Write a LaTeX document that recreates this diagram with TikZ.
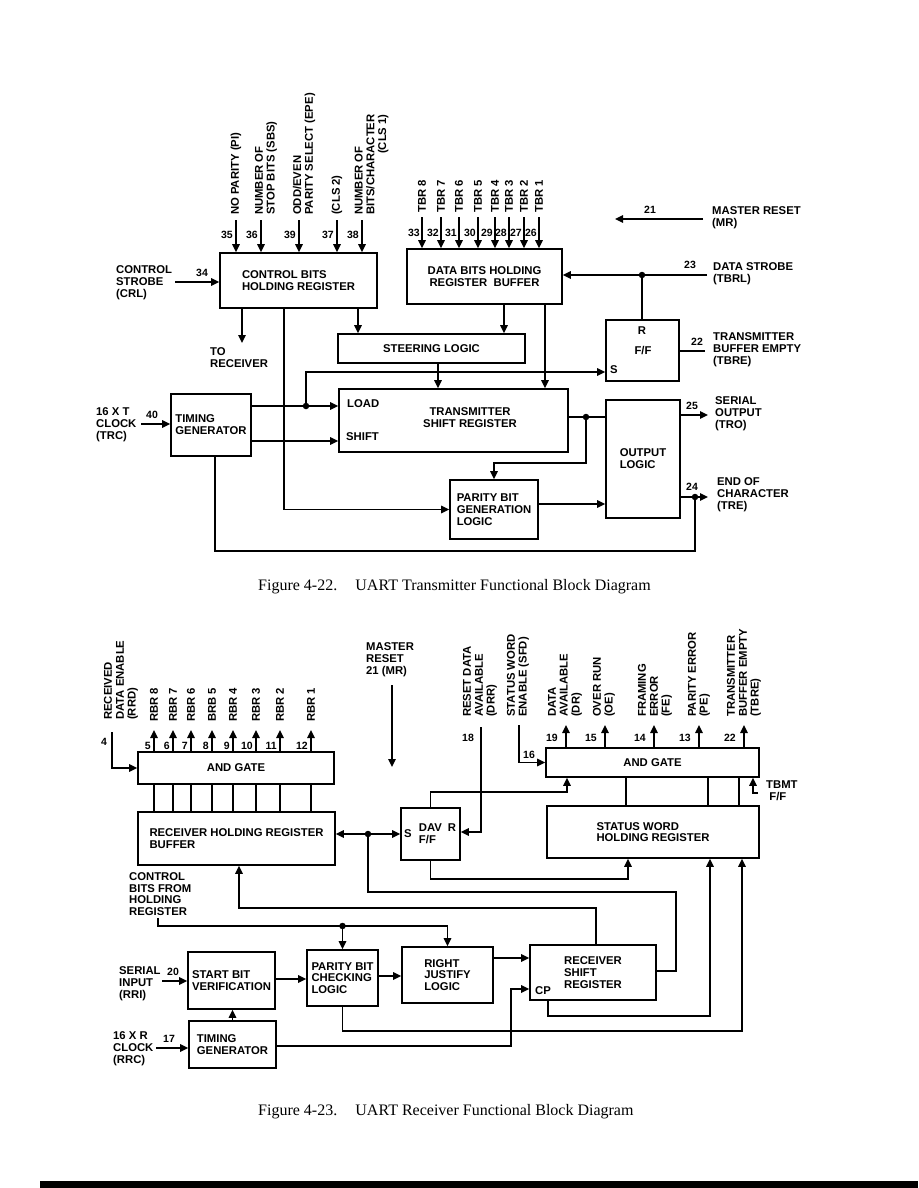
\documentclass[tikz,border=0pt]{standalone}
\usepackage{fontspec}
\setmainfont{Liberation Serif}
\newfontfamily\blockfont{Liberation Sans}
\usetikzlibrary{arrows.meta}
\newcommand\lbfont{\blockfont\bfseries\fontsize{11.3}{11.8}\selectfont}
\newcommand\pinfont{\blockfont\bfseries\fontsize{10.5}{11}\selectfont}
\tikzset{
  blk/.style={draw, rectangle, line width=1.6pt, inner sep=0pt, align=left, font=\lbfont},
  txt/.style={font=\lbfont, align=left, inner sep=0pt},
  vtxt/.style={txt, rotate=90, anchor=west},
  pin/.style={font=\pinfont, inner sep=0pt, anchor=east},
  dot/.style={circle, fill, inner sep=0pt, minimum size=6.5pt},
  wire/.style={line width=1.6pt},
  capt/.style={font=\fontsize{16}{18}\selectfont, anchor=west, inner sep=0pt},
}
\begin{document}
\begin{tikzpicture}[x=1pt, y=-1pt, >={Triangle[length=8pt,width=7.5pt]}]
\useasboundingbox (0,0) rectangle (918,1188);

% Transmitter blocks
\node[blk, minimum width=157pt, minimum height=55pt] (ctl) at (298.5,280.5) {CONTROL BITS\\HOLDING REGISTER};
\node[blk, minimum width=155pt, minimum height=55pt, align=center] (dbh) at (484.5,276.5) {DATA BITS HOLDING\\REGISTER\ \ BUFFER};
\node[blk, minimum width=187pt, minimum height=29pt] (steer) at (431.5,348.5) {STEERING LOGIC};
\node[blk, minimum width=73pt, minimum height=61pt] (ff) at (642.5,350.5) {};
\node[blk, minimum width=229pt, minimum height=63pt] (tsr) at (453.5,420.5) {};
\node[blk, minimum width=80pt, minimum height=62pt] (tgt) at (211,425) {TIMING\\GENERATOR};
\node[blk, minimum width=74pt, minimum height=118pt] (outl) at (643,459) {OUTPUT\\LOGIC};
\node[blk, minimum width=88pt, minimum height=59pt] (pgen) at (494,509.5) {PARITY BIT\\GENERATION\\LOGIC};

% Texts inside blocks
\node[txt, align=center] (tsrtxt) at (470,418) {TRANSMITTER\\SHIFT REGISTER};
\node[txt, anchor=west] (load) at (347,404) {LOAD};
\node[txt, anchor=west] (shift) at (346,437) {SHIFT};
\node[txt] (ffr) at (642,331) {R};
\node[txt] (fftxt) at (643,351) {F/F};
\node[txt] (ffs) at (614,370) {S};

% Control bit inputs
\node[vtxt] (lpi) at (236,215) {NO PARITY (PI)};
\node[vtxt] (lsbs) at (266,215) {NUMBER OF\\STOP BITS (SBS)};
\node[vtxt] (lepe) at (304,215) {ODD/EVEN\\PARITY SELECT (EPE)};
\node[vtxt] (lcls2) at (337,215) {(CLS 2)};
\node[vtxt] (lcls1) at (372,215) {\begin{tabular}{@{}l@{}}NUMBER OF\\BITS/CHARACTER\\\multicolumn{1}{@{}r@{}}{(CLS 1)}\end{tabular}};
\foreach \x/\n in {236/35, 261/36, 299/39, 337/37, 362/38}{
  \coordinate (p\n) at (\x,220);
  \draw[wire,->] (p\n) -- (p\n |- ctl.north);
  \node[pin] at (\x-3,235) {\n};
}

% Data bit inputs
\foreach \x/\n/\b in {422/33/8, 441/32/7, 459/31/6, 478/30/5, 495/29/4, 509/28/3, 524/27/2, 539/26/1}{
  \node[vtxt] (tbr\b) at (\x,213) {TBR \b};
  \coordinate (p\n) at (\x,217);
  \draw[wire,->] (p\n) -- (p\n |- dbh.north);
  \node[pin] at (\x-2,233) {\n};
}

% Master reset, data strobe
\coordinate (mrin) at (703,219);
\coordinate (mrout) at (615,219);
\draw[wire,->] (mrin) -- (mrout);
\node[pin, anchor=center] at (650,210) {21};
\node[txt, anchor=west] (lmr) at (712,218) {MASTER RESET\\(MR)};

\coordinate (tbrl) at (707,275);
\node[dot] (d1) at (642,275) {};
\draw[wire,->] (tbrl) -- (dbh.east |- tbrl);
\draw[wire] (d1.center) -- (d1 |- ff.north);
\node[pin, anchor=center] at (690,265) {23};
\node[txt, anchor=west] (ltbrl) at (713,274) {DATA STROBE\\(TBRL)};

% Flip-flop output
\coordinate (tbre) at (705,351);
\draw[wire] (ff.east |- tbre) -- (tbre);
\node[pin, anchor=center] at (697,342) {22};
\node[txt, anchor=west] (ltbre) at (713,350) {TRANSMITTER\\BUFFER EMPTY\\(TBRE)};

% Control strobe
\coordinate (crl) at (175,282);
\draw[wire,->] (crl) -- (ctl.west |- crl);
\node[pin, anchor=center] at (202,273) {34};
\node[txt, anchor=west] (lcrl) at (116,283) {CONTROL\\STROBE\\(CRL)};

% Register outputs
\coordinate (torcv) at (242,343);
\draw[wire,->] (ctl.south -| torcv) -- (torcv);
\node[txt, anchor=west] (ltorcv) at (210,358) {TO\\RECEIVER};
\draw[wire,->] (ctl.south -| 358,0) -- (steer.north -| 358,0);
\draw[wire,->] (dbh.south -| 504,0) -- (steer.north -| 504,0);
\draw[wire,->] (dbh.south -| 545,0) -- (tsr.north -| 545,0);
\draw[wire,->] (steer.south -| 438,0) -- (tsr.north -| 438,0);
\draw[wire,->] (ctl.south -| 284,0) |- (pgen.west);

% Timing generator
\node[dot] (d2) at (306,406) {};
\draw[wire,->] (tgt.east |- 0,406) -- (tsr.west |- 0,406);
\draw[wire,->] (d2.center) |- (ff.west |- 0,372);
\draw[wire,->] (tgt.east |- 0,441) -- (tsr.west |- 0,441);
\coordinate (trc) at (141,424);
\draw[wire,->] (trc) -- (tgt.west |- trc);
\node[pin, anchor=center] at (152,415) {40};
\node[txt, anchor=west] (ltrc) at (96,425) {16 X T\\CLOCK\\(TRC)};

% Shift register and output logic
\node[dot] (d4) at (586,417) {};
\draw[wire] (tsr.east |- d4) -- (outl.west |- d4);
\draw[wire,->] (d4.center) -- (d4 |- 0,463) -| (pgen.north);
\draw[wire,->] (pgen.east |- 0,504) -- (outl.west |- 0,504);
\coordinate (tro) at (708,415);
\draw[wire,->] (outl.east |- tro) -- (tro);
\node[pin, anchor=center] at (692,406) {25};
\node[txt, anchor=west] (ltro) at (715,414) {SERIAL\\OUTPUT\\(TRO)};
\coordinate (tre) at (708,497);
\node[dot] (d3) at (695,497) {};
\draw[wire,->] (outl.east |- tre) -- (tre);
\node[pin, anchor=center] at (692,487) {24};
\node[txt, anchor=west] (ltre) at (717,495) {END OF\\CHARACTER\\(TRE)};
\draw[wire] (tgt.south -| 215,0) |- (d3 |- 0,551) -- (d3.center);

\node[capt] (cap1) at (258,587) {Figure 4-22.\hspace{0.8em} UART Transmitter Functional Block Diagram};

% Receiver blocks
\node[blk, minimum width=196pt, minimum height=32pt, align=center] (andl) at (236,768) {AND GATE};
\node[blk, minimum width=197pt, minimum height=53pt] (rhr) at (236.5,838.5) {RECEIVER HOLDING REGISTER\\BUFFER};
\node[blk, minimum width=59pt, minimum height=52pt] (dav) at (430.5,834) {DAV\\F/F};
\node[blk, minimum width=213pt, minimum height=29pt, align=center] (andr) at (652.5,762.5) {AND GATE};
\node[blk, minimum width=212pt, minimum height=52pt] (swh) at (653,832) {STATUS WORD\\HOLDING REGISTER};
\node[blk, minimum width=87pt, minimum height=57pt] (sbv) at (231.5,980.5) {START BIT\\VERIFICATION};
\node[blk, minimum width=87pt, minimum height=47pt] (tgr) at (232.5,1044.5) {TIMING\\GENERATOR};
\node[blk, minimum width=71pt, minimum height=56pt] (pchk) at (342.5,978) {PARITY BIT\\CHECKING\\LOGIC};
\node[blk, minimum width=91pt, minimum height=56pt] (rjl) at (447.5,975) {RIGHT\\JUSTIFY\\LOGIC};
\node[blk, minimum width=126pt, minimum height=55pt] (rsr) at (593,972.5) {RECEIVER\\SHIFT\\REGISTER};
\node[txt] (davs) at (408,834) {S};
\node[txt] (davr) at (452,828) {R};
\node[txt, anchor=west] (cp) at (535,991) {CP};

% Received data outputs
\foreach \x/\n/\b in {154/5/RBR 8, 173/6/RBR 7, 191/7/RBR 6, 212/8/BRB 5, 233/9/RBR 4, 256/10/RBR 3, 280/11/RBR 2, 311/12/RBR 1}{
  \node[vtxt] at (\x,722) {\b};
  \coordinate (q\n) at (\x,730);
  \draw[wire,->] (andl.north -| q\n) -- (q\n);
  \draw[wire] (andl.south -| q\n) -- (rhr.north -| q\n);
  \node[pin] at (\x-3,746) {\n};
}
\node[vtxt] (lrrd) at (121,720) {RECEIVED\\DATA ENABLE\\(RRD)};
\coordinate (rrd) at (112,732);
\draw[wire,->] (rrd) |- (andl.west);
\node[pin, anchor=center] at (104,742) {4};

% Master reset
\node[txt, anchor=west] (lmr2) at (366,660) {MASTER\\RESET\\21 (MR)};
\coordinate (mr2in) at (392,685);
\coordinate (mr2out) at (392,767);
\draw[wire,->] (mr2in) -- (mr2out);

% Status inputs and outputs
\node[vtxt] (ldrr) at (480,717) {RESET DATA\\AVAILABLE\\(DRR)};
\node[vtxt] (lsfd) at (518,717) {STATUS WORD\\ENABLE (SFD)};
\node[vtxt] (ldr) at (565,717) {DATA\\AVAILABLE\\(DR)};
\node[vtxt] (loe) at (604,717) {OVER RUN\\(OE)};
\node[vtxt] (lfe) at (655,717) {FRAMING\\ERROR\\(FE)};
\node[vtxt] (lpe) at (699,717) {PARITY ERROR\\(PE)};
\node[vtxt] (ltbre2) at (744,717) {TRANSMITTER\\BUFFER EMPTY\\(TBRE)};
\foreach \x/\n in {566/19, 605/15, 654/14, 699/13, 744/22}{
  \coordinate (s\n) at (\x,725);
  \draw[wire,->] (andr.north -| s\n) -- (s\n);
  \node[pin] at (\x-8,738) {\n};
}
\coordinate (drr) at (481,727);
\draw[wire,->] (drr) |- (dav.east |- 0,832);
\node[pin, anchor=center] at (468,738) {18};
\coordinate (sfd) at (519,725);
\draw[wire,->] (sfd) |- (andr.west);
\node[pin, anchor=center] at (529,755) {16};

% DAV flip-flop
\node[dot] (d5) at (368,834) {};
\draw[wire,<->] (rhr.east |- d5) -- (dav.west |- d5);
\draw[wire,->] (dav.north) -- ++(0,-15) -| (andr.south -| 567,0);
\draw[wire,->] (dav.south) -- ++(0,18) -| (swh.south -| 628,0);
\draw[wire] (d5.center) |- (676,892) |- (rsr.east |- 0,971);
\draw[wire,->] (rsr.north -| 596,0) |- (239,908) -- (rhr.south -| 239,0);
\foreach \x in {626, 708, 739}{
  \draw[wire] (swh.north -| \x,0) -- (andr.south -| \x,0);
}
\coordinate (tbmt) at (758,793);
\draw[wire,->] (tbmt) -| (andr.south -| 753,0);
\node[txt, anchor=west] (ltbmt) at (766,791) {TBMT\\\ F/F};

% Control bits from holding register
\node[txt, anchor=west] (lcbits) at (129,894) {CONTROL\\BITS FROM\\HOLDING\\REGISTER};
\coordinate (cbits) at (158,918);
\node[dot] (d6) at (342.5,926) {};
\draw[wire,->] (cbits) |- (d6.center) -| (rjl.north);
\draw[wire,->] (d6.center) -- (pchk.north);

% Serial input and clock
\coordinate (rri) at (162,981);
\draw[wire,->] (rri) -- (sbv.west |- rri);
\node[pin, anchor=center] at (173,972) {20};
\node[txt, anchor=west] (lrri) at (119,984) {SERIAL\\INPUT\\(RRI)};
\draw[wire,->] (tgr.north) -- (tgr.north |- sbv.south);
\coordinate (rrc) at (156,1048);
\draw[wire,->] (rrc) -- (tgr.west |- rrc);
\node[pin, anchor=center] at (169,1039) {17};
\node[txt, anchor=west] (lrrc) at (113,1049) {16 X R\\CLOCK\\(RRC)};
\draw[wire,->] (tgr.east |- 0,1046) -| (511,989) -- (rsr.west |- 0,989);

% Data path
\draw[wire,->] (sbv.east |- 0,979) -- (pchk.west |- 0,979);
\draw[wire,->] (pchk.east |- 0,976) -- (rjl.west |- 0,976);
\draw[wire,->] (rjl.east |- 0,958) -- (rsr.west |- 0,958);
\draw[wire,->] (pchk.south) -- ++(0,24) -| (swh.south -| 742,0);
\draw[wire,->] (rsr.south -| 548,0) -- ++(0,15) -| (swh.south -| 710,0);

\node[capt] (cap2) at (258,1112) {Figure 4-23.\hspace{0.8em} UART Receiver Functional Block Diagram};

\fill (40,1181) rectangle (918,1188);
\end{tikzpicture}
\end{document}
